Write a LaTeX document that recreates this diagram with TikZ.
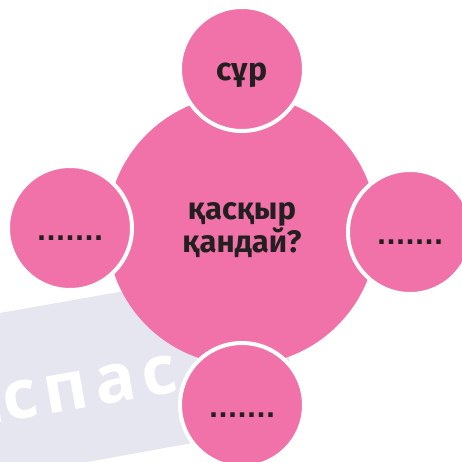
\documentclass[tikz,border=0pt]{standalone}
\usepackage{fontspec}
\setmainfont{Fira Sans}
\newfontfamily\wmfont{Open Sans}[LetterSpace=10]
\newfontfamily\dotfont{DejaVu Sans}
\usepackage{xcolor}
\usepackage{tikz}
\usetikzlibrary{positioning}

\definecolor{qpink}{RGB}{240,114,168}
\definecolor{qband}{RGB}{230,230,241}
\definecolor{qtext}{RGB}{35,31,32}

\newcommand{\blanks}{{\dotfont\bfseries\fontsize{25}{25}\selectfont .......}}

\begin{document}
\begin{tikzpicture}[x=1pt, y=-1pt,
        big/.style={circle, fill=qpink, minimum size=270pt, inner sep=0pt,
            text=qtext, font=\bfseries\fontsize{31}{33}\selectfont, align=center},
        small/.style={circle, fill=qpink, draw=white, line width=4pt,
            minimum size=124pt, inner sep=0pt, text=qtext,
            text height=24pt, text depth=0pt,
            font=\bfseries\fontsize{32}{33}\selectfont}]
        \useasboundingbox (0,0) rectangle (462,462);

        % watermark band
        \begin{scope}
            \clip (-40,320) -- (278,264) -- (297,424) -- (-12,480) -- cycle;
            \fill[qband] (-40,320) -- (278,264) -- (297,424) -- (-12,480) -- cycle;
            \node (wm) [rotate=10, text=white, inner sep=0pt]
                at (90,388) {\wmfont\bfseries\fontsize{68}{68}\selectfont\llap{а}спас};
        \end{scope}

        \node (main) [big] at (242,230) {қасқыр\\қандай?};

        \node (top) [small] at (242,69) {сұр};
        \node (left) [small] at (70,228) {\blanks};
        \node (right) [small] at (410,232) {\blanks};
        \node (bottom) [small] at (242,405) {\blanks};
    \end{tikzpicture}
\end{document}
